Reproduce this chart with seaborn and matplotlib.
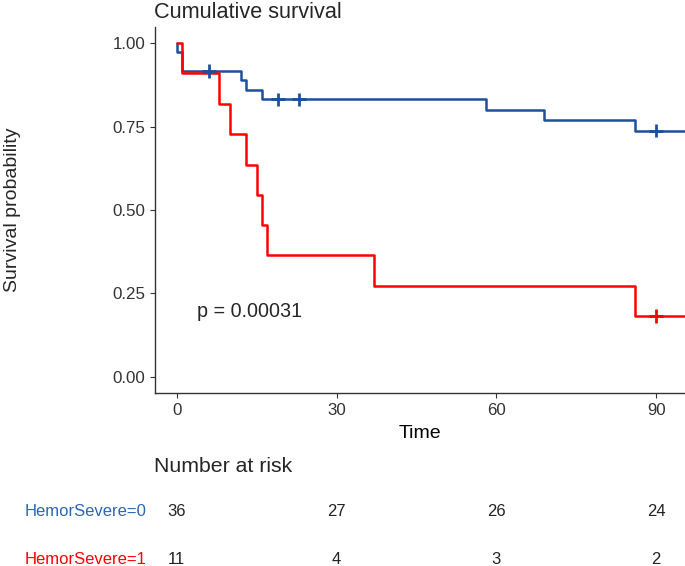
import numpy as np
import pandas as pd
import seaborn as sns
import matplotlib
import matplotlib.pyplot as plt
from matplotlib.transforms import blended_transform_factory

matplotlib.use('Agg')

# Kaplan-Meier step points
groups = ["HemorSevere=0", "HemorSevere=1"]
times_0 = [0, 0, 1, 12, 13, 16, 58, 69, 86, 95.5]
surv_0 = [1.0, 0.972, 0.917, 0.888, 0.859, 0.831, 0.800, 0.769, 0.738, 0.738]
times_1 = [0, 1, 8, 10, 13, 15, 16, 17, 37, 86, 95.5]
surv_1 = [1.0, 0.909, 0.818, 0.727, 0.636, 0.545, 0.455, 0.364, 0.273, 0.182, 0.182]

cens_t_0 = [6, 19, 23, 90]
cens_s_0 = [0.917, 0.831, 0.831, 0.738]
cens_t_1 = [90]
cens_s_1 = [0.182]

risk_times = [0, 30, 60, 90]
risk_0 = [36, 27, 26, 24]
risk_1 = [11, 4, 3, 2]

p_text = "p = 0.00031"

line_colors = ["#1E4F9C", "#FF0000"]
text_colors = ["#2A66B2", "#FF0000"]

curves = pd.concat([
    pd.DataFrame({"time": times_0, "surv": surv_0, "group": groups[0]}),
    pd.DataFrame({"time": times_1, "surv": surv_1, "group": groups[1]}),
])
cens = pd.concat([
    pd.DataFrame({"time": cens_t_0, "surv": cens_s_0, "group": groups[0]}),
    pd.DataFrame({"time": cens_t_1, "surv": cens_s_1, "group": groups[1]}),
])

sns.set_style("white")
plt.rcParams['font.family'] = ['Liberation Sans', 'DejaVu Sans']

W, H = 685, 566
fig = plt.figure(figsize=(W / 100, H / 100), dpi=100)
ax = fig.add_axes([155 / W, 1 - 393 / H, 1 - 155 / W, (393 - 27) / H])

pal = dict(zip(groups, line_colors))
sns.lineplot(data=curves, x="time", y="surv", hue="group", palette=pal,
             drawstyle="steps-post", estimator=None, sort=False,
             linewidth=1.8, legend=False, ax=ax)
sns.scatterplot(data=cens, x="time", y="surv", hue="group", palette=pal,
                marker="+", s=100, linewidth=2.0, legend=False, ax=ax, zorder=3)

ax.set_xlim(-4.1, 95.4)
ax.set_ylim(-0.048, 1.048)
ax.set_xticks(risk_times)
ax.set_yticks([0, 0.25, 0.5, 0.75, 1.0])
ax.set_yticklabels(["0.00", "0.25", "0.50", "0.75", "1.00"])
ax.tick_params(axis="both", labelsize=12.2, labelcolor="#333333", length=3.5,
               width=0.8, color="#333333", direction="out", left=True, bottom=True)
ax.tick_params(axis="y", pad=3.5)
ax.tick_params(axis="x", pad=4)
for side in ["top", "right"]:
    ax.spines[side].set_visible(False)
for side in ["left", "bottom"]:
    ax.spines[side].set_color("#333333")
    ax.spines[side].set_linewidth(1.0)

ax.set_xlabel("Time", fontsize=14, color="black", labelpad=5)
ax.set_ylabel("")
fig.text(13 / W, 1 - 210 / H, "Survival probability", rotation=90,
         fontsize=14, ha="center", va="center")
fig.text(154 / W, 1 - 12 / H, "Cumulative survival", fontsize=15.6,
         ha="left", va="center")

ax.text(3.8, 0.195, p_text, fontsize=14.2, ha="left", va="center")

# risk table
fig.text(154 / W, 1 - 466 / H, "Number at risk", fontsize=15.3,
         ha="left", va="center")
tr = blended_transform_factory(ax.transData, fig.transFigure)
for label, counts, col, ypx in [(groups[0], risk_0, text_colors[0], 511),
                                (groups[1], risk_1, text_colors[1], 559)]:
    fig.text(147 / W, 1 - ypx / H, label, color=col, fontsize=12,
             ha="right", va="center")
    for t, n in zip(risk_times, counts):
        ax.text(t, 1 - ypx / H, str(n), transform=tr, fontsize=12,
                color="#222222", ha="center", va="center", clip_on=False)

fig.savefig("out.png", dpi=100)
